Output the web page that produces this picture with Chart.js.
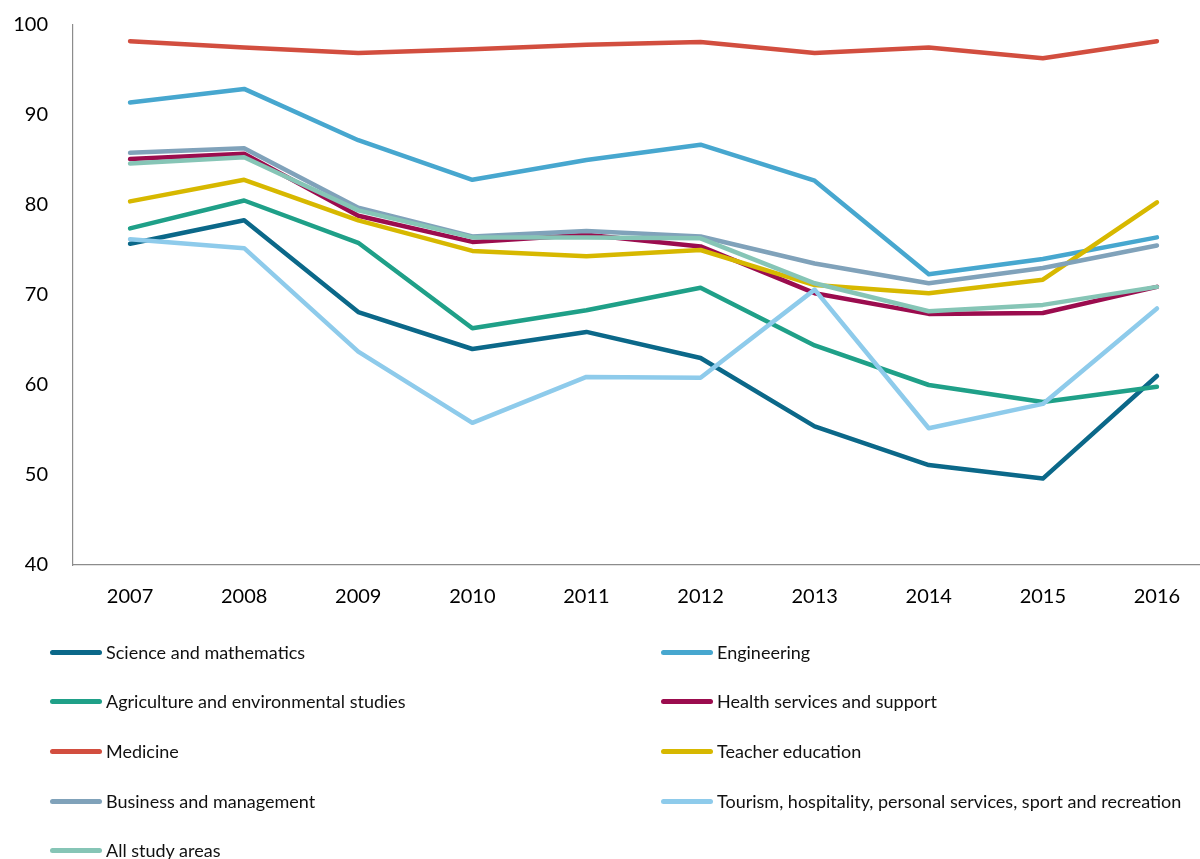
<!DOCTYPE html>
<html>
<head>
<meta charset="utf-8">
<script src="https://cdn.jsdelivr.net/npm/chart.js@4.4.1/dist/chart.umd.min.js"></script>
<style>
  html, body { margin: 0; padding: 0; background: #fff; overflow: hidden; width: 1200px; height: 859px; }
  #wrap { position: absolute; left: 0; top: 0; width: 1214px; height: 625px; }
  #legend { position: absolute; left: 0; top: 0; width: 1200px; height: 859px; pointer-events: none;
            font-family: Lato, "Open Sans", sans-serif; font-size: 18px; color: #111; }
  .item { position: absolute; display: flex; align-items: center; white-space: nowrap; }
  .swatch { width: 52px; height: 5px; border-radius: 3px; margin-right: 4px; }
</style>
</head>
<body>
<div id="wrap"><canvas id="c"></canvas></div>
<div id="legend"></div>
<script>
const years = ['2007','2008','2009','2010','2011','2012','2013','2014','2015','2016'];
const yTicks = [40, 50, 60, 70, 80, 90, 100];

const seriesNames = [
  'Science and mathematics',
  'Engineering',
  'Agriculture and environmental studies',
  'Health services and support',
  'Medicine',
  'Teacher education',
  'Business and management',
  'Tourism, hospitality, personal services, sport and recreation',
  'All study areas'
];
const scienceMaths   = [75.7, 78.3, 68.1, 64.0, 65.9, 63.0, 55.4, 51.1, 49.6, 61.0];
const engineering    = [91.4, 92.9, 87.2, 82.8, 85.0, 86.7, 82.7, 72.3, 74.0, 76.4];
const agriculture    = [77.4, 80.5, 75.8, 66.3, 68.3, 70.8, 64.4, 60.0, 58.1, 59.8];
const healthServices = [85.1, 85.7, 78.8, 75.9, 76.7, 75.4, 70.2, 67.9, 68.0, 70.9];
const medicine       = [98.2, 97.5, 96.9, 97.3, 97.8, 98.1, 96.9, 97.5, 96.3, 98.2];
const teacherEd      = [80.4, 82.8, 78.3, 74.9, 74.3, 75.0, 71.1, 70.2, 71.7, 80.3];
const business       = [85.8, 86.3, 79.7, 76.5, 77.1, 76.5, 73.5, 71.3, 73.0, 75.5];
const tourism        = [76.2, 75.2, 63.7, 55.8, 60.9, 60.8, 70.6, 55.2, 57.9, 68.5];
const allAreas       = [84.6, 85.3, 79.4, 76.4, 76.4, 76.3, 71.3, 68.2, 68.9, 70.9];

const seriesValues = [scienceMaths, engineering, agriculture, healthServices, medicine, teacherEd, business, tourism, allAreas];
const colors = ['#0b6889', '#47a7cf', '#1fa088', '#9b0c4e', '#d24e3f', '#d7b800', '#80a2ba', '#8ecbeb', '#86c5b6'];

const N = seriesNames.length;
const datasets = seriesNames.map((name, i) => ({
  label: name,
  data: seriesValues[i],
  borderColor: colors[i],
  backgroundColor: colors[i],
  borderWidth: 4.5,
  pointRadius: 0,
  pointHoverRadius: 0,
  tension: 0,
  fill: false,
  borderCapStyle: 'round',
  borderJoinStyle: 'round',
  order: N - i
}));

const tickFont = { family: 'Lato, "Open Sans", sans-serif', size: 20 };

new Chart(document.getElementById('c'), {
  type: 'line',
  data: { labels: years, datasets },
  options: {
    responsive: true,
    maintainAspectRatio: false,
    animation: false,
    layout: { padding: { top: 25, left: 0, right: 0, bottom: 0 } },
    plugins: { legend: { display: false }, tooltip: { enabled: false } },
    scales: {
      x: {
        offset: true,
        grid: { display: false, drawTicks: false },
        border: { display: true, color: '#8c8c8c', width: 1.2 },
        ticks: { color: '#000', font: tickFont, padding: 20, maxRotation: 0 },
        afterFit: s => { s.height = 60; }
      },
      y: {
        min: 40, max: 100,
        afterBuildTicks: s => { s.ticks = yTicks.map(v => ({ value: v })); },
        grid: { display: false, drawTicks: false },
        border: { display: true, color: '#8c8c8c', width: 1.2 },
        ticks: { color: '#000', font: tickFont, padding: 25 },
        afterFit: s => { s.width = 73; s.paddingTop = 12; s.paddingBottom = 12; }
      }
    }
  }
});

// HTML legend, two columns
const legend = document.getElementById('legend');
const colX = [50, 661];
const rowY = [652, 701, 751, 801, 850];
seriesNames.forEach((name, i) => {
  const col = i % 2, row = Math.floor(i / 2);
  const el = document.createElement('div');
  el.className = 'item';
  el.style.left = colX[col] + 'px';
  el.style.top = (rowY[row] - 12) + 'px';
  el.style.height = '24px';
  const sw = document.createElement('span');
  sw.className = 'swatch';
  sw.style.background = colors[i];
  const tx = document.createElement('span');
  tx.textContent = name;
  el.appendChild(sw); el.appendChild(tx);
  legend.appendChild(el);
});
</script>
</body>
</html>
